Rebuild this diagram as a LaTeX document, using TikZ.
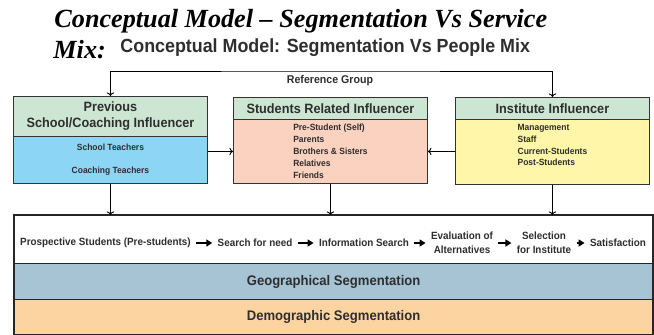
\documentclass[tikz,border=0pt]{standalone}
\usepackage{fontspec}
\setmainfont{Liberation Sans}
\newfontfamily\titlefont{Liberation Serif}
\newfontfamily\narrowfont[FakeStretch=0.94]{Liberation Sans Bold}
\usetikzlibrary{positioning, arrows.meta}

\definecolor{headgreen}{HTML}{CCE6D3}
\definecolor{schoolblue}{HTML}{8CD5F5}
\definecolor{studsalmon}{HTML}{FBD2C0}
\definecolor{instyellow}{HTML}{FFF6AA}
\definecolor{georow}{HTML}{A7C4D4}
\definecolor{demorow}{HTML}{FCD4A2}
\definecolor{textgray}{HTML}{2E2E2E}

\tikzset{
    head/.style = {shape = rectangle, draw = black!80, fill = headgreen, anchor = north west,
        minimum width = 194pt, inner sep = 0pt, align = center, text = textgray,
        font = \narrowfont\fontsize{13.5}{16}\selectfont},
    body/.style = {shape = rectangle, draw = black!80, anchor = north west,
        minimum width = 194pt, inner sep = 0pt, text = textgray,
        font = \narrowfont\fontsize{9}{12}\selectfont},
    row/.style = {shape = rectangle, draw = black!85, line width = 1.2pt, anchor = north west,
        minimum width = 638pt, inner sep = 0pt, text = textgray,
        font = \narrowfont\fontsize{13.9}{15}\selectfont},
    stepnode/.style = {inner sep = 2pt, align = center, text = textgray,
        font = \narrowfont\fontsize{10.5}{15}\selectfont},
    flow/.style = {-{Triangle[length = 6pt, width = 7pt]}, line width = 1.5pt,
        shorten < = 3pt, shorten > = 3pt}
}

\begin{document}
\begin{tikzpicture}[x = 1pt, y = -1pt, line width = 0.9pt]
            \useasboundingbox (0, 0) rectangle (654, 335);

            \node [anchor = base west, inner sep = 0pt] (title) at (54, 27)
                {\titlefont\bfseries\itshape\fontsize{26.2}{28}\selectfont Conceptual Model – Segmentation Vs Service};
            \node [anchor = base west, inner sep = 0pt] (mix) at (53, 58)
                {\titlefont\bfseries\itshape\fontsize{26.2}{28}\selectfont Mix:};
            \node [anchor = base west, inner sep = 0pt, text = textgray] (subtitle) at (120, 52)
                {\narrowfont\fontsize{19}{22}\selectfont Conceptual Model: Segmentation Vs People Mix};

            \node [head, minimum height = 40pt] (prevhead) at (13, 96) {Previous\\School/Coaching Influencer};
            \node [body, fill = schoolblue, minimum height = 47pt, align = center] (prevbody) at (13, 136)
                {School Teachers\\[11pt]Coaching Teachers};

            \node [head, minimum height = 22pt] (studhead) at (233, 97) {Students Related Influencer};
            \node [body, fill = studsalmon, minimum height = 64pt, align = left] (studbody) at (233, 119)
                {Pre-Student (Self)\\Parents\\Brothers \& Sisters\\Relatives\\Friends};

            \node [head, minimum height = 22pt] (insthead) at (455, 97) {Institute Influencer};
            \node [body, fill = instyellow, minimum height = 65pt, align = left,
                font = \narrowfont\fontsize{9}{11.7}\selectfont] (instbody) at (455, 119)
                {Management\\Staff\\Current-Students\\Post-Students\\[2pt]};

            \coordinate (refline) at (330, 71);
            \node [text = textgray, font = \narrowfont\fontsize{11.3}{13}\selectfont] (refgroup) at (330, 81) {Reference Group};

            \node [row, minimum height = 48pt, fill = white] (process) at (14, 215) {};
            \node [row, minimum height = 36pt, fill = georow] (geo) at (14, 263) {Geographical Segmentation};
            \node [row, minimum height = 35pt, fill = demorow] (demo) at (14, 299) {Demographic Segmentation};
            \draw [line width = 2.4pt, black!85] (process.north west) rectangle (demo.south east);

            \node [stepnode] (prospect) at (105.5, 243) {Prospective Students (Pre-students)};
            \node [stepnode] (need) at (255, 243) {Search for need};
            \node [stepnode] (info) at (364, 243) {Information Search};
            \node [stepnode, font = \narrowfont\fontsize{10.5}{14}\selectfont] (evalalt) at (462, 243) {Evaluation of\\Alternatives};
            \node [stepnode, font = \narrowfont\fontsize{10.5}{14}\selectfont] (select) at (544, 243) {Selection\\for Institute};
            \node [stepnode] (satisf) at (618, 243) {Satisfaction};

            \draw [<->] (prevhead.north) |- (refline) -| (insthead.north);
            \draw [->] (prevbody.east |- studbody.west) -- (studbody.west);
            \draw [->] (instbody.west |- studbody.east) -- (studbody.east);
            \draw [->] (prevbody.south) -- (prevbody.south |- process.north);
            \draw [->] (studbody.south) -- (studbody.south |- process.north);
            \draw [->] (instbody.south) -- (instbody.south |- process.north);

            \draw [flow] (prospect) -- (need);
            \draw [flow] (need) -- (info);
            \draw [flow] (info) -- (evalalt);
            \draw [flow] (evalalt) -- (select);
            \draw [flow] (select) -- (satisf);
        \end{tikzpicture}
\end{document}
